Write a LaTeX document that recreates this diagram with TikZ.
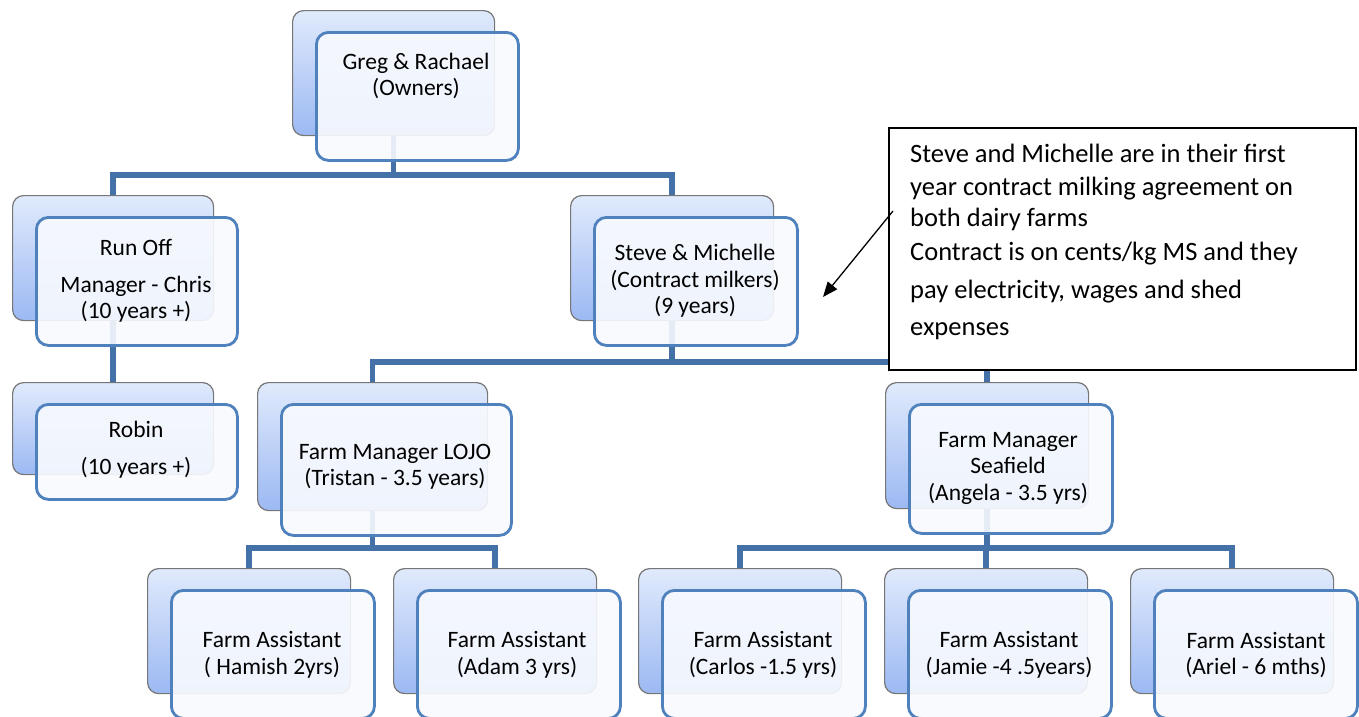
\documentclass[tikz,border=0pt]{standalone}
\usepackage{fontspec}
\setmainfont{Carlito}
\usetikzlibrary{arrows.meta}
\definecolor{conncol}{RGB}{68,114,168}
\definecolor{frontcol}{RGB}{79,129,189}
\definecolor{backtop}{RGB}{224,234,252}
\definecolor{backbot}{RGB}{156,185,243}
\definecolor{backedge}{RGB}{118,118,118}
\definecolor{frontfill}{RGB}{248,250,254}
\newcommand\backunit[5]{\node[backbox, minimum width=#4pt, minimum height=#5pt] (#1B) at (#2,#3) {};}
\newcommand\frontunit[5]{\node[frontbox, minimum width=#4pt, minimum height=#5pt+3pt] (#1F) at (#2+23,#3+21) {};}
\begin{document}
\begin{tikzpicture}[x=1pt,y=-1pt,
  backbox/.style={draw=backedge, line width=1.2pt, rounded corners=11pt, top color=backtop, bottom color=backbot, anchor=north west, inner sep=0pt},
  frontbox/.style={draw=frontcol, line width=2.8pt, rounded corners=12pt, fill=frontfill, fill opacity=0.9, anchor=north west, inner sep=0pt},
  conn/.style={draw=conncol, line width=5.3pt},
  txt/.style={font=\fontsize{23.5}{26.5}\selectfont, align=center, inner sep=0pt},
  notebox/.style={draw=black, line width=1.5pt, fill=white, anchor=north west, inner sep=0pt},
  notetxt/.style={anchor=north west, align=left, inner sep=0pt, font=\fontsize{26.5}{32.5}\selectfont},
  callarrow/.style={draw=black, line width=1.3pt, -{Triangle[length=15pt,width=12pt]}}
]
\useasboundingbox (0,0) rectangle (1359,716);
% back boxes
\backunit{own}{292}{10}{202}{125}
\backunit{ro}{12}{195}{201}{125}
\backunit{sm}{570}{195}{203}{125}
\backunit{rb}{12}{382}{201}{92}
\backunit{lj}{257}{382}{230}{128}
\backunit{sf}{885}{382}{203}{126}
\backunit{aa}{147}{568}{203}{125}
\backunit{ab}{393}{568}{203}{125}
\backunit{ac}{638}{568}{203}{125}
\backunit{ad}{884}{568}{203}{125}
\backunit{ae}{1130}{568}{203}{125}
% connectors
\coordinate (barA) at (0,175);
\coordinate (barB) at (0,362);
\coordinate (barC) at (0,548);
\draw[conn] (ownB.south) -- (ownB.south |- barA);
\draw[conn] (roB.north) |- (ownB.south |- barA) -| (smB.north);
\draw[conn] (roB.south) -- (rbB.north);
\draw[conn] (smB.south) -- (smB.south |- barB);
\draw[conn] (ljB.north) |- (smB.south |- barB) -| (sfB.north);
\draw[conn] (ljB.south) -- (ljB.south |- barC);
\draw[conn] (aaB.north) |- (ljB.south |- barC) -| (abB.north);
\draw[conn] (sfB.south) -- (sfB.south |- barC);
\draw[conn] (acB.north) |- (sfB.south |- barC) -| (aeB.north);
\draw[conn] (adB.north) -- (adB.north |- barC);
% front boxes
\frontunit{own}{292}{10}{202}{125}
\frontunit{ro}{12}{195}{201}{125}
\frontunit{sm}{570}{195}{203}{125}
\frontunit{rb}{12}{382}{201}{92}
\frontunit{lj}{257}{382}{230}{128}
\frontunit{sf}{885}{382}{203}{126}
\frontunit{aa}{147}{568}{203}{125}
\frontunit{ab}{393}{568}{203}{125}
\frontunit{ac}{638}{568}{203}{125}
\frontunit{ad}{884}{568}{203}{125}
\frontunit{ae}{1130}{568}{203}{125}
% texts
\node[txt] (ownT) at (416,76) {Greg \& Rachael\\(Owners)};
\node[txt] (roT) at (136,281) {Run Off\\[10pt]Manager - Chris\\(10 years +)};
\node[txt] (rbT) at (136,450) {Robin\\[10.5pt](10 years +)};
\node[txt] (smT) at (695,281) {Steve \& Michelle\\(Contract milkers)\\(9 years)};
\node[txt] (ljT) at (395,467) {Farm Manager LOJO\\(Tristan - 3.5 years)};
\node[txt] (sfT) at (1008,468) {Farm Manager\\Seafield\\(Angela - 3.5 yrs)};
\node[txt] (aaT) at (272,655) {Farm Assistant\\( Hamish 2yrs)};
\node[txt] (abT) at (517,655) {Farm Assistant\\(Adam 3 yrs)};
\node[txt] (acT) at (763,655) {Farm Assistant\\(Carlos -1.5 yrs)};
\node[txt] (adT) at (1009,655) {Farm Assistant\\(Jamie -4 .5years)};
\node[txt] (aeT) at (1256,655) {Farm Assistant\\(Ariel - 6 mths)};
% callout
\node[notebox, minimum width=467pt, minimum height=242pt] (note) at (888,127) {};
\node[notetxt] (noteT) at (910,144) {Steve and Michelle are in their first\\year contract milking agreement on\\[-1pt]both dairy farms\\[1.5pt]Contract is on cents/kg MS and they\\[5.5pt]pay electricity, wages and shed\\[4.5pt]expenses};
\coordinate (arrS) at (893,211);
\coordinate (arrE) at (823,297);
\draw[callarrow] (arrS) -- (arrE);
\end{tikzpicture}
\end{document}
